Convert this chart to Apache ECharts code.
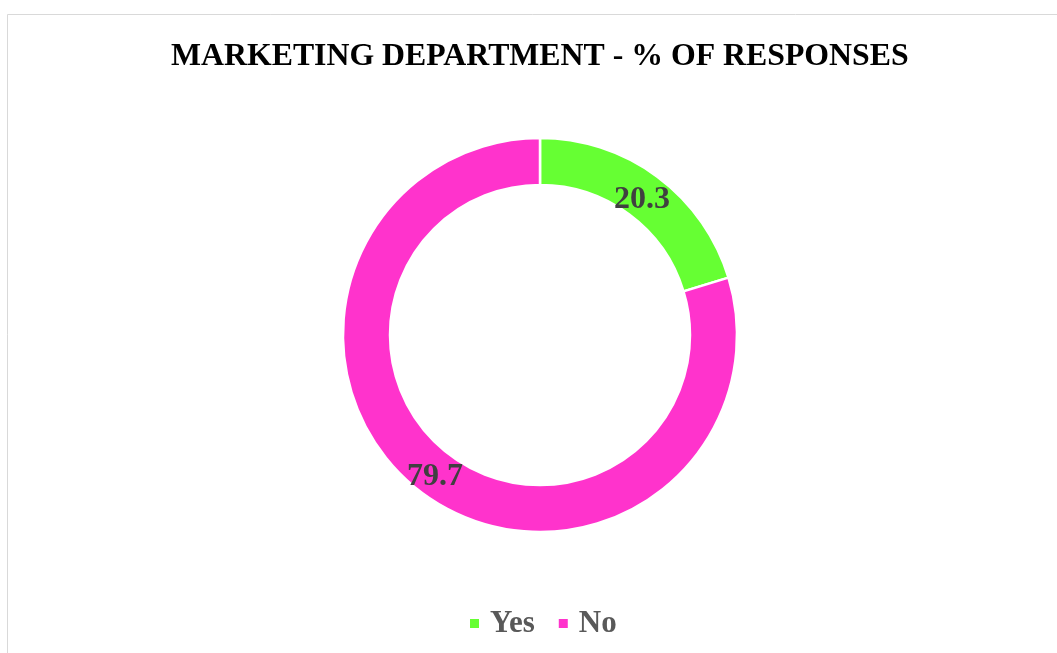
<!DOCTYPE html>
<html>
<head>
<meta charset="utf-8">
<title>Marketing Department - % of Responses</title>
<script src="https://cdn.jsdelivr.net/npm/echarts@6/dist/echarts.min.js"></script>
<style>
  html, body { margin: 0; padding: 0; background: #ffffff; }
  #chart { width: 1057px; height: 653px; }
</style>
</head>
<body>
<div id="chart"></div>
<script>
// Survey answers and their share of responses (%)
const categories = ['Yes', 'No'];
const shares = [20.3, 79.7];
const colors = ['#66FF33', '#FF33CC'];

const serif = '"Liberation Serif", "DejaVu Serif", serif';

// small nudges for the in-ring value labels
const labelNudge = { Yes: [-3, 7], No: [0, 0] };

const chart = echarts.init(document.getElementById('chart'), null, { renderer: 'canvas' });

chart.setOption({
  backgroundColor: '#ffffff',
  animation: false,
  title: {
    text: 'MARKETING DEPARTMENT - % OF RESPONSES',
    left: 166,
    top: 36,
    textStyle: {
      fontFamily: serif,
      fontWeight: 'bold',
      fontSize: 31.8,
      color: '#000000'
    }
  },
  legend: {
    data: categories,
    bottom: 9,
    left: 463,
    icon: 'rect',
    itemWidth: 11,
    itemHeight: 11,
    itemGap: 22,
    textStyle: {
      fontFamily: serif,
      fontWeight: 'bold',
      fontSize: 31,
      color: '#595959',
      padding: [0, 0, 0, 5]
    }
  },
  graphic: [{
    type: 'rect',
    shape: { x: 7.5, y: 14.5, width: 1100, height: 700 },
    style: { fill: 'none', stroke: '#d9d9d9', lineWidth: 1 },
    silent: true,
    z: -1
  }],
  series: [{
    type: 'pie',
    center: [540, 335],
    radius: [150, 197],
    startAngle: 90,
    clockwise: true,
    avoidLabelOverlap: false,
    itemStyle: { borderColor: '#ffffff', borderWidth: 2.5 },
    label: {
      show: true,
      position: 'inside',
      formatter: '{c}',
      fontFamily: serif,
      fontWeight: 'bold',
      fontSize: 32,
      color: '#404040'
    },
    labelLine: { show: false },
    emphasis: { disabled: true },
    data: categories.map((name, i) => ({
      name: name,
      value: shares[i],
      itemStyle: { color: colors[i] },
      label: { offset: labelNudge[name] }
    }))
  }]
});
</script>
</body>
</html>
